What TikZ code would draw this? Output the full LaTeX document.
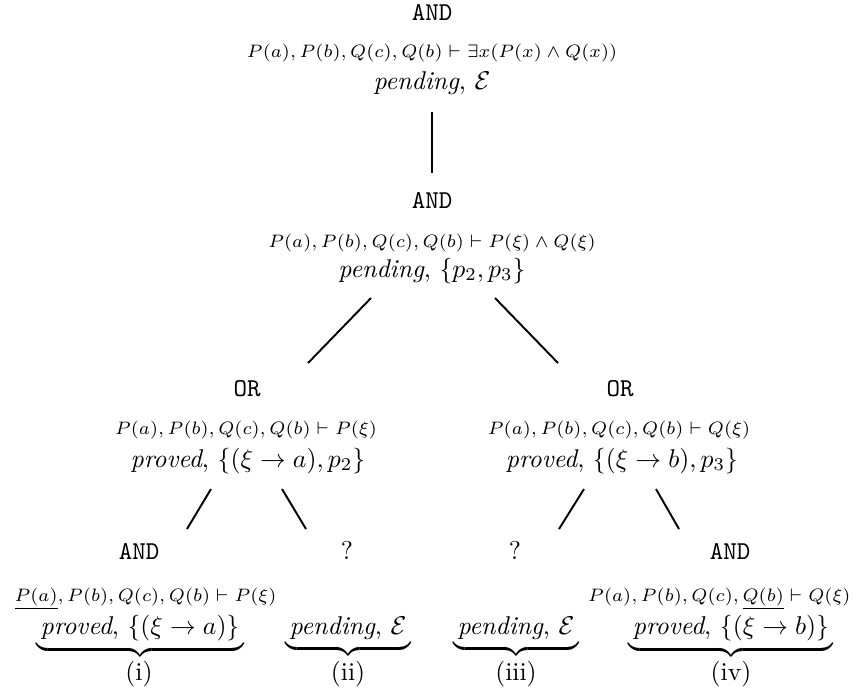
\documentclass[tikz,border=0pt]{standalone}
\usepackage{amsmath,amssymb}
\begin{document}
\begin{tikzpicture}[x=0.389pt,y=-0.389pt,
  lbl/.style={inner sep=0pt,anchor=base},
  opnode/.style={lbl,font=\ttfamily},
  seqnode/.style={lbl,font=\scriptsize},
  stnode/.style={lbl},
  edge/.style={line width=0.75pt}]
\useasboundingbox (0,0) rectangle (853,693);
% root
\node[opnode]  (r-op)  at (432,20) {AND};
\node[seqnode] (r-seq) at (432,57) {$P(a), P(b), Q(c), Q(b) \vdash \exists x(P(x)\wedge Q(x))$};
\node[stnode]  (r-st)  at (432,89) {\textit{pending}, $\mathcal{E}$};
% second
\node[opnode]  (n1-op)  at (432,208) {AND};
\node[seqnode] (n1-seq) at (432,247) {$P(a), P(b), Q(c), Q(b) \vdash P(\xi)\wedge Q(\xi)$};
\node[stnode]  (n1-st)  at (432,277) {\textit{pending}, $\{p_2,p_3\}$};
% OR left
\node[opnode]  (o1-op)  at (247,396) {OR};
\node[seqnode] (o1-seq) at (246,434) {$P(a), P(b), Q(c), Q(b) \vdash P(\xi)$};
\node[stnode]  (o1-st)  at (248,467) {\textit{proved}, $\{(\xi\to a), p_2\}$};
% OR right
\node[opnode]  (o2-op)  at (620,396) {OR};
\node[seqnode] (o2-seq) at (619,434) {$P(a), P(b), Q(c), Q(b) \vdash Q(\xi)$};
\node[stnode]  (o2-st)  at (622,467) {\textit{proved}, $\{(\xi\to b), p_3\}$};
% leaves
\node[opnode]  (a1-op)  at (139,559) {AND};
\node[seqnode,anchor=base west] (a1-seq) at (14,601) {$\underline{P(a)}, P(b), Q(c), Q(b) \vdash P(\xi)$};
\node[stnode]  (a1-st)  at (140,634) {$\underbrace{\,\text{\textit{proved}, $\{(\xi\to a)\}$}\,}$};
\node[stnode]  (a1-lb)  at (139,680) {(i)};
\node[lbl]     (q1-op)  at (347,559) {?};
\node[stnode]  (q1-st)  at (348,634) {$\underbrace{\,\text{\textit{pending}, $\mathcal{E}$}\,}$};
\node[stnode]  (q1-lb)  at (348,680) {(ii)};
\node[lbl]     (q2-op)  at (515,559) {?};
\node[stnode]  (q2-st)  at (516,634) {$\underbrace{\,\text{\textit{pending}, $\mathcal{E}$}\,}$};
\node[stnode]  (q2-lb)  at (516,680) {(iii)};
\node[opnode]  (a2-op)  at (730,559) {AND};
\node[seqnode,anchor=base east] (a2-seq) at (851,601) {$P(a), P(b), Q(c), \underline{Q(b)} \vdash Q(\xi)$};
\node[stnode]  (a2-st)  at (731,634) {$\underbrace{\,\text{\textit{proved}, $\{(\xi\to b)\}$}\,}$};
\node[stnode]  (a2-lb)  at (731,680) {(iv)};
% connectors
\draw[edge] ([shift={(0,23)}]r-st.base) -- ([shift={(0,-35)}]n1-op.base);
\draw[edge] ([shift={(-61,21)}]n1-st.base) -- ([shift={(61,-33)}]o1-op.base);
\draw[edge] ([shift={(63,21)}]n1-st.base) -- ([shift={(-62,-33)}]o2-op.base);
\draw[edge] ([shift={(-37,22)}]o1-st.base) -- ([shift={(48,-30)}]a1-op.base);
\draw[edge] ([shift={(34,22)}]o1-st.base) -- ([shift={(-41,-30)}]q1-op.base);
\draw[edge] ([shift={(-38,22)}]o2-st.base) -- ([shift={(44,-30)}]q2-op.base);
\draw[edge] ([shift={(34,22)}]o2-st.base) -- ([shift={(-51,-30)}]a2-op.base);
\end{tikzpicture}
\end{document}
